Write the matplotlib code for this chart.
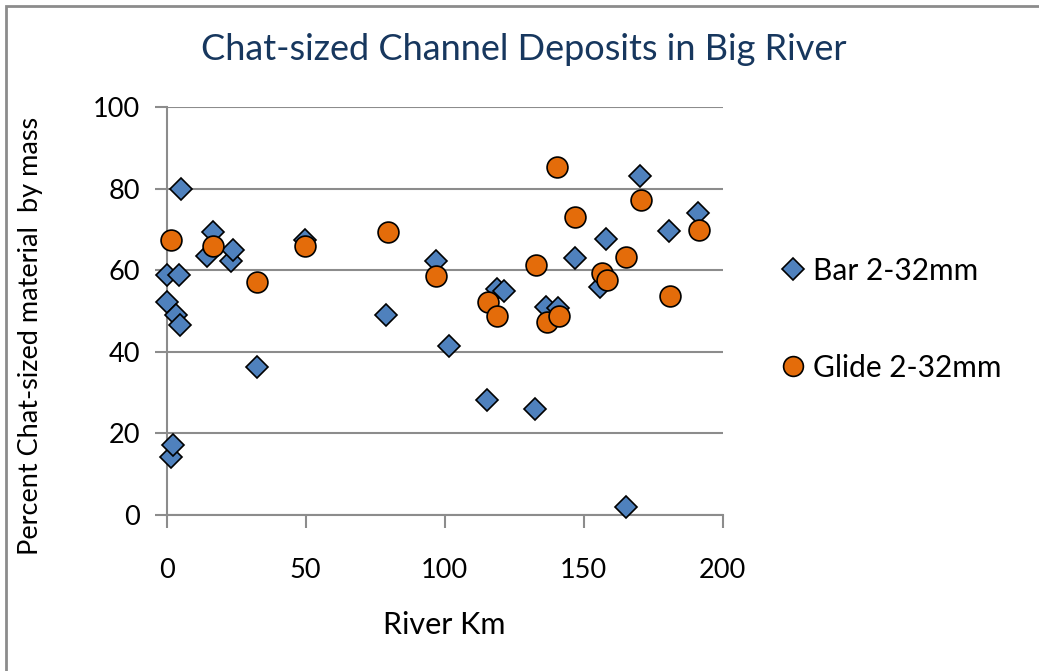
import matplotlib
matplotlib.use("Agg")
import matplotlib.pyplot as plt
from matplotlib.patches import Rectangle

# DATA
bar_km = [0.0, 0.0, 1.4, 2.4, 3.3, 4.3, 4.8, 5.0, 14.4, 16.5, 23.0, 24.0, 32.4, 49.7,
          79.0, 96.9, 101.4, 115.3, 118.7, 121.3, 132.5, 136.3, 140.9, 146.8, 155.9,
          157.9, 165.1, 170.3, 180.8, 191.2]
bar_pct = [58.9, 52.1, 14.3, 17.2, 49.1, 58.9, 46.5, 80.0, 63.6, 69.3, 62.2, 64.9, 36.2, 67.5,
           49.0, 62.2, 41.5, 28.2, 55.4, 54.8, 26.1, 51.1, 50.7, 63.1, 56.0,
           67.7, 2.0, 83.0, 69.5, 74.0]

glide_km = [1.5, 16.5, 32.4, 49.6, 79.5, 97.0, 115.6, 118.7, 132.7, 136.9, 140.3, 141.2,
            147.0, 156.5, 158.3, 165.2, 170.6, 181.0, 191.6]
glide_pct = [67.4, 66.0, 57.2, 66.0, 69.4, 58.6, 52.1, 48.7, 61.3, 47.4, 85.4, 48.7,
             73.0, 59.2, 57.5, 63.3, 77.1, 53.6, 69.8]

x_ticks = [0, 50, 100, 150, 200]
y_ticks = [0, 20, 40, 60, 80, 100]

plt.rcParams['font.family'] = ['Lato', 'DejaVu Sans']

fig = plt.figure(figsize=(10.39, 6.71), dpi=100)
ax = fig.add_axes([166.7 / 1039, 1 - 515 / 671, 556 / 1039, 408 / 671])

# outer chart frame (right and bottom edges fall outside the picture)
fig.patches.append(Rectangle((6 / 1039, -0.05), 1.2, 1 - 6 / 671 + 0.05, transform=fig.transFigure,
                             fill=False, edgecolor='#8c8c8c', linewidth=2))

ax.plot(bar_km, bar_pct, linestyle='none', marker='D', markersize=11.5,
        markerfacecolor='#4F81BD', markeredgecolor='black', markeredgewidth=1.2,
        label='Bar 2-32mm', clip_on=False, zorder=3)
ax.plot(glide_km, glide_pct, linestyle='none', marker='o', markersize=15,
        markerfacecolor='#E46C0A', markeredgecolor='black', markeredgewidth=1.2,
        label='Glide 2-32mm', clip_on=False, zorder=3)

ax.set_xlim(0, 200)
ax.set_ylim(0, 100)
ax.set_xticks(x_ticks)
ax.set_yticks(y_ticks)
ax.grid(axis='y', color='#8c8c8c', linewidth=1.5)
ax.set_axisbelow(True)
for s in ['top', 'right']:
    ax.spines[s].set_visible(False)
for s in ['left', 'bottom']:
    ax.spines[s].set_color('#8c8c8c')
    ax.spines[s].set_linewidth(1.5)
ax.tick_params(axis='both', colors='#8c8c8c', width=1.5, length=9, labelsize=19.5,
               labelcolor='black')
ax.tick_params(axis='x', pad=22)
ax.tick_params(axis='y', pad=10)

ax.set_xlabel('River Km', fontsize=22, labelpad=20)
ax.set_ylabel('Percent Chat-sized material  by mass', fontsize=19.5)
ax.yaxis.set_label_coords(-0.222, 0.44)
fig.text(524 / 1039, 1 - 50 / 671, 'Chat-sized Channel Deposits in Big River',
         fontsize=26, color='#17375E', ha='center', va='center')

ax.legend(loc='center left', bbox_to_anchor=(1.0, 0.48), frameon=False, fontsize=21.5,
          labelspacing=2.3, handlelength=1.34, handletextpad=0.0, borderaxespad=1.27,
          markerscale=0.95)

fig.savefig('out.png', dpi=100)
